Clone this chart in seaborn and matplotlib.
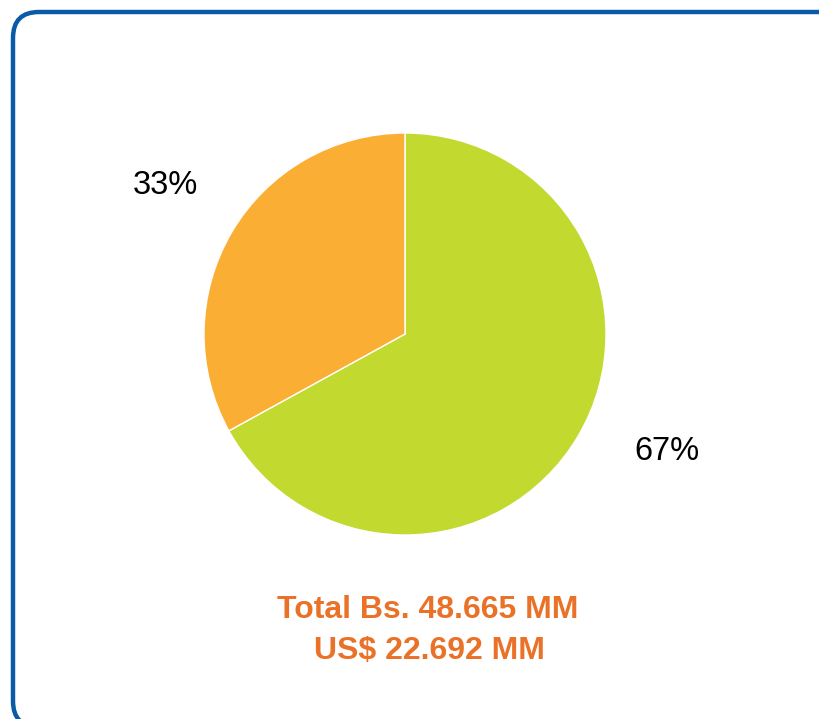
import matplotlib
matplotlib.use("Agg")
import matplotlib.pyplot as plt
from matplotlib.patches import FancyBboxPatch
import seaborn as sns

categories = ["Grupo A", "Grupo B"]
values = [67, 33]
colors = ["#c2d92f", "#fbae34"]
total_lines = ["Total Bs. 48.665 MM", "US$ 22.692 MM"]

sns.set_theme(style="white")
plt.rcParams['font.family'] = ['Liberation Sans', 'DejaVu Sans']

W, H = 820, 719
fig = plt.figure(figsize=(W / 100, H / 100), dpi=100)
ax = fig.add_axes([0, 0, 1, 1])

wedges, texts, autotexts = ax.pie(
    values, colors=colors, startangle=90, counterclock=False,
    center=(405, H - 334), radius=201, autopct='%d%%', pctdistance=1.42,
    wedgeprops=dict(edgecolor='white', linewidth=1),
    textprops=dict(fontsize=23.5, color='black'), frame=True)
ax.set_xlim(0, W)
ax.set_ylim(0, H)
ax.set_aspect('equal')
ax.axis('off')

autotexts[0].set_position((667, H - 452))
autotexts[1].set_position((165, H - 186))
for t in autotexts:
    t.set_ha('center')
    t.set_va('center')

ax.text(428, H - 610, total_lines[0], ha='center', va='center', fontsize=23,
        fontweight='bold', color='#ea7128')
ax.text(429, H - 651, total_lines[1], ha='center', va='center', fontsize=23,
        fontweight='bold', color='#ea7128')

border = FancyBboxPatch((13, -8), 832, H - 12 + 8,
                        boxstyle="round,pad=0,rounding_size=26",
                        fill=False, edgecolor='#0a5aa8', linewidth=3.2,
                        clip_on=False)
ax.add_patch(border)

fig.savefig("out.png", dpi=100)
